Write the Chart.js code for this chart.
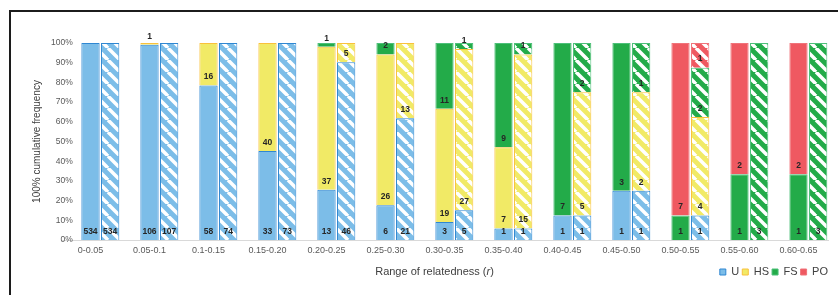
<!DOCTYPE html>
<html lang="en">
<head>
  <meta charset="UTF-8">
  <script src="https://cdn.jsdelivr.net/npm/chart.js"></script>
  <title>Relatedness</title>
  <style>
    html, body { margin: 0; padding: 0; background: #fff; overflow: hidden; }
    #wrap { position: relative; width: 838px; height: 295px; }
    #frame { position: absolute; left: 9px; top: 10px; width: 900px; height: 400px;
             border-top: 2px solid #1c1c1c; border-left: 2px solid #1c1c1c; pointer-events: none; }
  </style>
</head>
<body>
<div id="wrap">
  <canvas id="grafico"></canvas>
  <div id="frame"></div>
</div>
<script>
  var categorias = ['0-0.05', '0.05-0.1', '0.1-0.15', '0.15-0.20', '0.20-0.25', '0.25-0.30', '0.30-0.35',
    '0.35-0.40', '0.40-0.45', '0.45-0.50', '0.50-0.55', '0.55-0.60', '0.60-0.65']

  // solid bars (counts)
  var solidU  = [534, 106, 58, 33, 13, 6, 3, 1, 1, 1, 0, 0, 0]
  var solidHS = [0, 1, 16, 40, 37, 26, 19, 7, 0, 0, 0, 0, 0]
  var solidFS = [0, 0, 0, 0, 1, 2, 11, 9, 7, 3, 1, 1, 1]
  var solidPO = [0, 0, 0, 0, 0, 0, 0, 0, 0, 0, 7, 2, 2]

  // hatched bars (counts)
  var hatchU  = [534, 107, 74, 73, 46, 21, 5, 1, 1, 1, 1, 0, 0]
  var hatchHS = [0, 0, 0, 0, 5, 13, 27, 15, 5, 2, 4, 0, 0]
  var hatchFS = [0, 0, 0, 0, 0, 0, 1, 1, 2, 1, 2, 3, 3]
  var hatchPO = [0, 0, 0, 0, 0, 0, 0, 0, 0, 0, 1, 0, 0]

  var nomes = ['U', 'HS', 'FS', 'PO']
  var cores = ['#7cbde8', '#f1ea66', '#23ab49', '#ef5961']
  var bordas = ['#2f87d2', '#f9c13c', '#4cc079', '#f0737a']

  var fonte = '"Liberation Sans", Arial, sans-serif'
  var legPad = 3

  function percent(contagens, grupo) {
    return contagens.map(function (v, i) {
      var total = 0
      grupo.forEach(function (g) { total += g[i] })
      return v === 0 ? null : v / total * 100
    })
  }

  function hachura(cor) {
    var c = document.createElement('canvas')
    c.width = 12
    c.height = 12
    var ctx = c.getContext('2d')
    ctx.fillStyle = cor
    ctx.fillRect(0, 0, 12, 12)
    ctx.strokeStyle = '#ffffff'
    ctx.lineWidth = 3.5
    for (var k = -1; k <= 1; k++) {
      ctx.beginPath()
      ctx.moveTo(k * 12, 0)
      ctx.lineTo(k * 12 + 12, 12)
      ctx.stroke()
    }
    return ctx.createPattern(c, 'repeat')
  }

  var solid = [solidU, solidHS, solidFS, solidPO]
  var hatch = [hatchU, hatchHS, hatchFS, hatchPO]

  // first (empty) stack keeps the gap between the groups
  var datasets = [{
    label: 'gap', stack: 'z', data: categorias.map(function () { return null })
  }]
  solid.forEach(function (serie, k) {
    datasets.push({
      label: nomes[k], stack: 'a', contagem: serie,
      data: percent(serie, solid),
      backgroundColor: cores[k], borderColor: bordas[k], borderWidth: 1
    })
  })
  hatch.forEach(function (serie, k) {
    datasets.push({
      label: nomes[k] + ' ', stack: 'b', contagem: serie,
      data: percent(serie, hatch),
      backgroundColor: hachura(cores[k]), borderColor: bordas[k], borderWidth: 1
    })
  })

  // numbers at the base of each segment
  var rotulos = {
    id: 'rotulos',
    afterDatasetsDraw: function (chart) {
      var ctx = chart.ctx
      ctx.save()
      ctx.font = 'bold 8.5px ' + fonte
      ctx.fillStyle = '#262626'
      ctx.textAlign = 'center'
      ctx.textBaseline = 'middle'
      chart.data.datasets.forEach(function (ds, di) {
        if (!ds.contagem) return
        var meta = chart.getDatasetMeta(di)
        meta.data.forEach(function (bar, i) {
          var n = ds.contagem[i]
          if (!n) return
          var p = bar.getProps(['x', 'base'], true)
          ctx.fillText(String(n), p.x, p.base - 8.5)
        })
      })
      ctx.restore()
    }
  }

  // x axis title on the legend row, with italic r
  var tituloX = {
    id: 'tituloX',
    afterLayout: function (chart) {
      chart.legend.left += legPad
      chart.legend.right += legPad
    },
    afterDraw: function (chart) {
      var ctx = chart.ctx
      var a = chart.chartArea
      var partes = [['Range of relatedness (', 'normal'], ['r', 'italic'], [')', 'normal']]
      var larg = 0
      partes.forEach(function (p) {
        ctx.font = p[1] + ' 11px ' + fonte
        larg += ctx.measureText(p[0]).width
      })
      var x = (a.left + a.right) / 2 - 10 - larg / 2
      var y = chart.legend.top + legPad + 5.5
      ctx.save()
      ctx.fillStyle = '#404040'
      ctx.textBaseline = 'middle'
      ctx.textAlign = 'left'
      partes.forEach(function (p) {
        ctx.font = p[1] + ' 11px ' + fonte
        ctx.fillText(p[0], x, y)
        x += ctx.measureText(p[0]).width
      })
      ctx.restore()
    }
  }

  var config = {
    type: 'bar',
    data: { labels: categorias, datasets: datasets },
    plugins: [rotulos, tituloX],
    options: {
      responsive: true,
      maintainAspectRatio: false,
      animation: false,
      categoryPercentage: 1,
      barPercentage: 0.93,
      layout: { padding: { top: 43, right: 10, bottom: 7.5, left: 0 } },
      plugins: {
        tooltip: { enabled: false },
        legend: {
          position: 'bottom',
          align: 'end',
          labels: {
            boxWidth: 6, boxHeight: 6, padding: legPad,
            color: '#404040',
            font: { size: 11, family: fonte },
            filter: function (item) { return item.datasetIndex >= 1 && item.datasetIndex <= 4 }
          }
        }
      },
      scales: {
        x: {
          stacked: true,
          grid: { display: false, drawTicks: false },
          border: { display: true, color: '#d9d9d9', width: 1 },
          ticks: { color: '#595959', padding: 5, font: { size: 9, family: fonte } },
          afterFit: function (s) { s.height = 23.5 }
        },
        y: {
          stacked: true,
          min: 0, max: 100,
          grid: { display: false, drawTicks: false },
          border: { display: false },
          ticks: {
            stepSize: 10, mirror: true, crossAlign: 'far', padding: -10, color: '#595959',
            font: { size: 8.5, family: fonte },
            callback: function (v) { return v + '%' }
          },
          title: {
            display: true, text: '100% cumulative frequency', color: '#404040',
            padding: { top: 31, bottom: 0 },
            font: { size: 10, family: fonte }
          },
          afterFit: function (s) { s.width = 61 }
        }
      }
    }
  }

  new Chart(document.getElementById('grafico'), config)
</script>
</body>
</html>
